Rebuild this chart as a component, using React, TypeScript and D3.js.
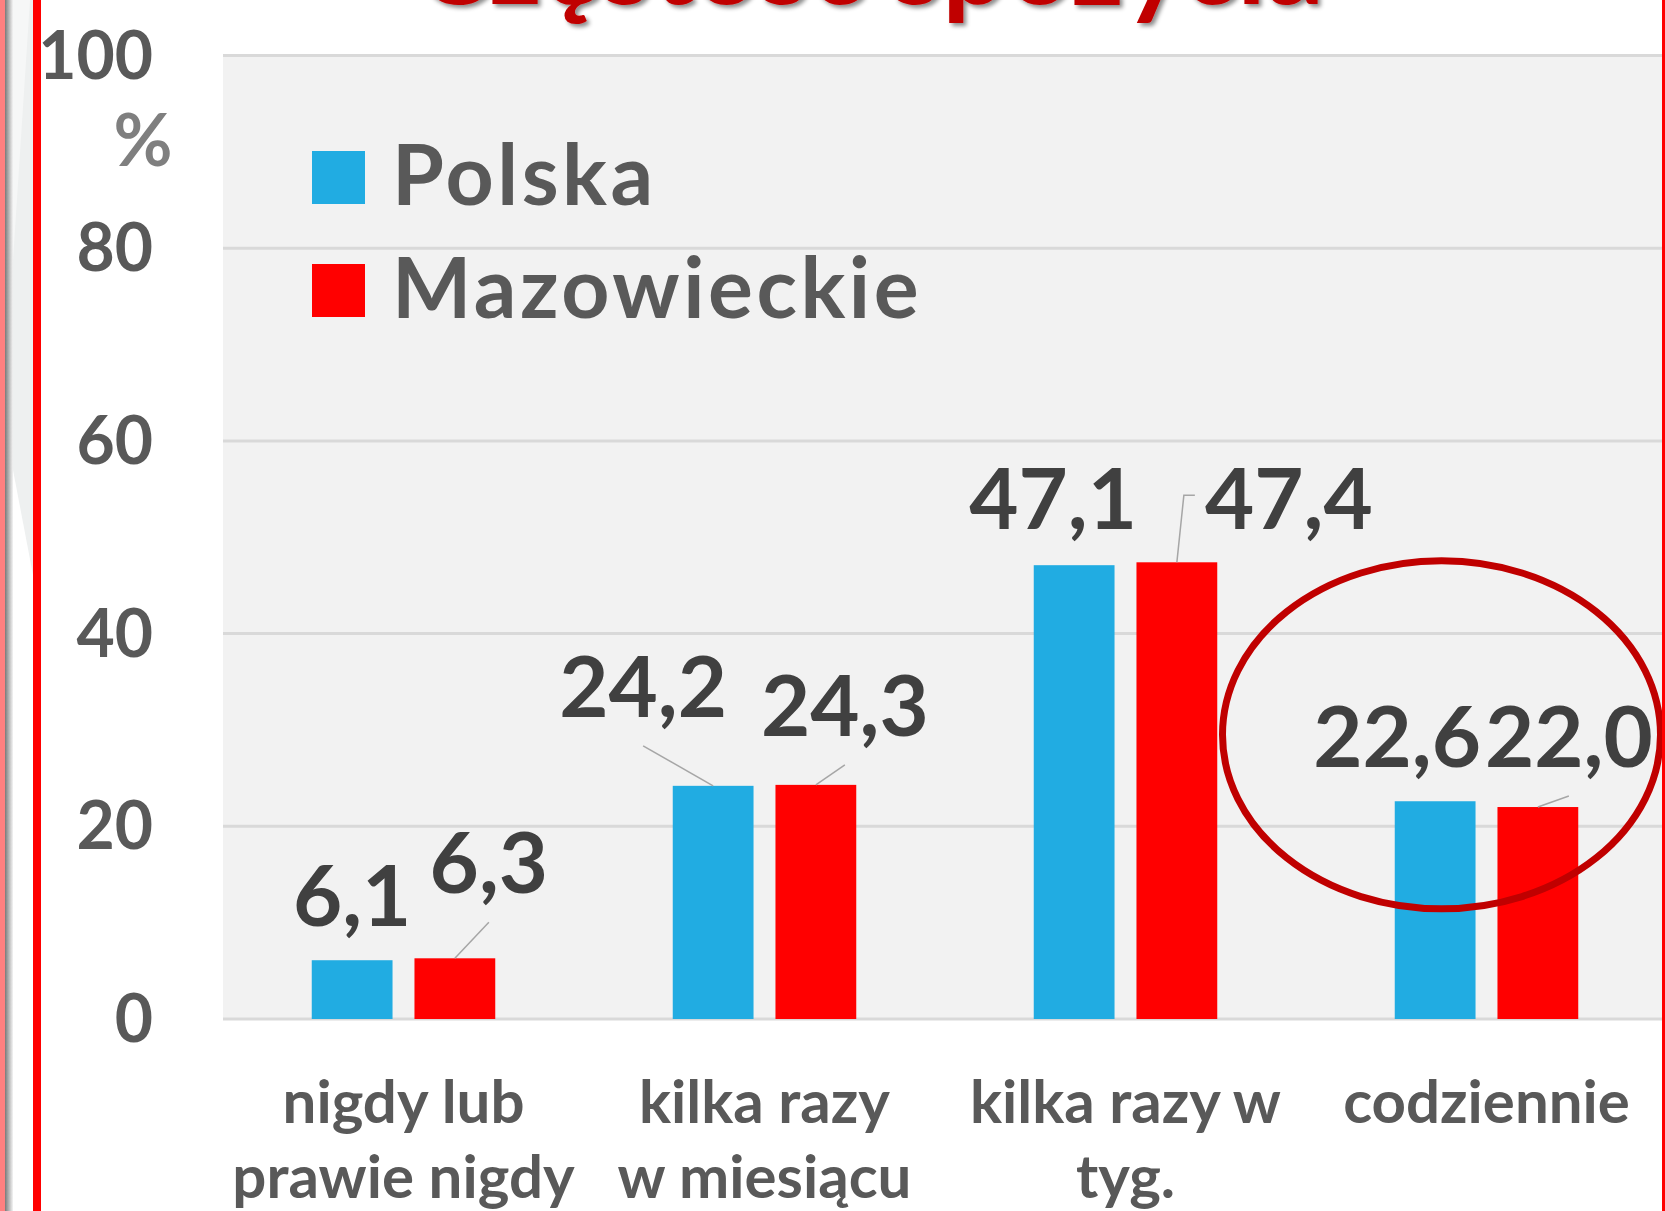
import * as d3 from "d3";

// --- data ---
const categories = ["nigdy lub prawie nigdy", "kilka razy w miesiącu", "kilka razy w tyg.", "codziennie"];
const categoryLines = [
  ["nigdy lub", "prawie nigdy"],
  ["kilka razy", "w miesiącu"],
  ["kilka razy w", "tyg."],
  ["codziennie"],
];
const seriesNames = ["Polska", "Mazowieckie"];
const polska = [6.1, 24.2, 47.1, 22.6];
const mazowieckie = [6.3, 24.3, 47.4, 22.0];
const yTicks = [0, 20, 40, 60, 80, 100];
const title = "Częstość spożycia";

// label nudges relative to the top-centre of each bar (dragged by hand in the original)
const polskaNudge: [number, number, string][] = [[0, -34, ""], [-70, -69, "line"], [-21, -36, ""], [-38, -34, ""]];
const mazNudge: [number, number, string][] = [[34, -65, "line"], [29, -49, "line"], [112, -33, "elbow"], [31, -40, "line"]];

const W = 1665;
const H = 1211;
const FONT = "Lato, 'Open Sans', sans-serif";
const colors = { Polska: "#21ACE2", Mazowieckie: "#FF0000" } as Record<string, string>;

export default function App() {
  const plot = { left: 223, right: 1667, top: 55.5, bottom: 1019 };

  const x0 = d3.scaleBand<string>().domain(categories).range([plot.left, plot.right]);
  const x1 = d3.scaleBand<string>().domain(seriesNames).range([0, x0.bandwidth()])
    .paddingInner(0.2136).paddingOuter(0.864);
  const y = d3.scaleLinear().domain([0, 100]).range([plot.bottom, plot.top]);

  const series = [
    { name: "Polska", values: polska, nudge: polskaNudge },
    { name: "Mazowieckie", values: mazowieckie, nudge: mazNudge },
  ];

  const fmt = (v: number) => d3.format(".1f")(v).replace(".", ",");

  const lastCat = categories[3];
  const ringCx = (x0(lastCat) ?? 0) + x0.bandwidth() / 2 - 45;
  const ringCy = y(29.5);

  return (
    <svg width={W} height={H} style={{ position: "absolute", left: 0, top: 0, background: "#fff" }}
      fontFamily={FONT}>
      <defs>
        <filter id="shadow" x="-5%" y="-50%" width="110%" height="200%">
          <feDropShadow dx="3" dy="3" stdDeviation="2" floodColor="#000" floodOpacity="0.45" />
        </filter>
        <linearGradient id="edge" x1="0" x2="1">
          <stop offset="0" stopColor="#7a7a7a" />
          <stop offset="1" stopColor="#f4f4f4" />
        </linearGradient>
      </defs>

      {/* slide decoration on the left */}
      <rect x={0} y={0} width={5} height={H} fill="#FF8080" />
      <rect x={5} y={0} width={8} height={H} fill="url(#edge)" />
      <polygon points={`13,0 33,0 33,575 13,470`} fill="#EEF0F0" />
      <polygon points={`13,0 30,0 13,260`} fill="#F6F7F7" />
      <rect x={33} y={0} width={8} height={H} fill="#FF0000" />

      {/* plot area */}
      <rect x={plot.left} y={plot.top} width={1663 - plot.left} height={plot.bottom - plot.top} fill="#F2F2F2" />
      {yTicks.map((t) => (
        <line key={t} x1={plot.left} x2={1663} y1={y(t)} y2={y(t)} stroke="#D9D9D9" strokeWidth={3} />
      ))}

      {/* y axis */}
      {yTicks.map((t) => (
        <text key={t} x={153} y={y(t) + 23} textAnchor="end" fontSize={66} fontWeight={700} fill="#595959">
          {t}
        </text>
      ))}
      <text x={143} y={166} textAnchor="middle" fontSize={72} fontWeight={700} fill="#7F7F7F">%</text>

      {/* bars */}
      {series.map((s) =>
        s.values.map((v, i) => (
          <rect key={s.name + i}
            x={(x0(categories[i]) ?? 0) + (x1(s.name) ?? 0)}
            y={y(v)} width={x1.bandwidth()} height={y(0) - y(v)}
            fill={colors[s.name]} />
        ))
      )}

      {/* leader lines + data labels */}
      {series.map((s) =>
        s.values.map((v, i) => {
          const bx = (x0(categories[i]) ?? 0) + (x1(s.name) ?? 0) + x1.bandwidth() / 2;
          const by = y(v);
          const [dx, dy, kind] = s.nudge[i];
          const lx = bx + dx;
          const ly = by + dy;
          let leader = null;
          if (kind === "line") {
            leader = <line x1={bx} y1={by} x2={lx} y2={ly + 29} stroke="#A6A6A6" strokeWidth={1.5} />;
          } else if (kind === "elbow") {
            const path = d3.path();
            path.moveTo(bx, by);
            path.lineTo(bx + 7, ly - 34);
            path.lineTo(bx + 18, ly - 34);
            leader = <path d={path.toString()} fill="none" stroke="#A6A6A6" strokeWidth={1.5} />;
          }
          return (
            <g key={"l" + s.name + i}>
              {leader}
              <text x={lx} y={ly} textAnchor="middle" fontSize={85} fontWeight={700} fill="#404040">
                {fmt(v)}
              </text>
            </g>
          );
        })
      )}

      {/* category labels */}
      {categories.map((c, i) => (
        <text key={c} x={(x0(c) ?? 0) + x0.bandwidth() / 2} y={1123} textAnchor="middle"
          fontSize={60} fontWeight={700} fill="#595959">
          {categoryLines[i].map((ln, j) => (
            <tspan key={j} x={(x0(c) ?? 0) + x0.bandwidth() / 2} dy={j === 0 ? 0 : 75}>{ln}</tspan>
          ))}
        </text>
      ))}

      {/* legend */}
      {seriesNames.map((n, i) => (
        <g key={n} transform={`translate(312,${151 + i * 113})`}>
          <rect width={53} height={53} fill={colors[n]} />
          <text x={80} y={54} fontSize={84} fontWeight={700} fill="#595959" letterSpacing={3.5}>{n}</text>
        </g>
      ))}

      {/* highlight ring */}
      <ellipse cx={ringCx} cy={ringCy} rx={219} ry={174} fill="none" stroke="#C00000" strokeWidth={7} />

      {/* title, mostly cut off at the top */}
      <text x={869} y={4} textAnchor="middle" fontSize={114} fontWeight={700} fill="#C00000" filter="url(#shadow)">
        {title}
      </text>

      <rect x={1662} y={0} width={3} height={H} fill="#FF0000" />
    </svg>
  );
}
